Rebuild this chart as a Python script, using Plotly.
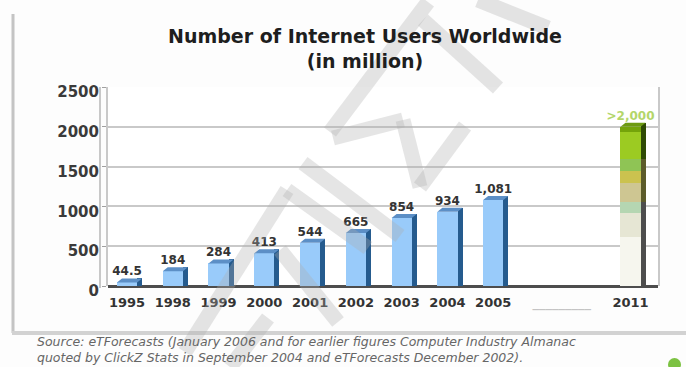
import numpy as np
import plotly.graph_objects as go

# ---- data -------------------------------------------------------------
years = ["1995", "1998", "1999", "2000", "2001", "2002", "2003", "2004", "2005"]
users = [44.5, 184, 284, 413, 544, 665, 854, 934, 1081]
user_labels = ["44.5", "184", "284", "413", "544", "665", "854", "934", "1,081"]

forecast_year = "2011"
forecast_value = 2000
forecast_label = ">2,000"

y_ticks = [0, 500, 1000, 1500, 2000, 2500]
y_tick_labels = ["0", "500", "1000", "1500", "2000", "2500"]

title_lines = ["Number of Internet Users Worldwide", "(in million)"]
source_lines = [
    "Source: eTForecasts (January 2006 and for earlier figures Computer Industry Almanac",
    "quoted by ClickZ Stats in September 2004 and eTForecasts December 2002).",
]

# ---- styling ----------------------------------------------------------
W, H = 686, 367
PLOT_L, PLOT_R, PLOT_T, PLOT_B = 108, 658, 87, 286
FONT = "DejaVu Sans"

FRONT_W = 0.44          # width of the bar front face (category units)
SIDE_W = 0.11           # depth offset of the 3D side face
DEPTH = 50              # vertical lift of the 3D top face (value units)

FRONT_BLUE = "#99cbfa"
SIDE_BLUE = "#255b8e"
TOP_BLUE = "#5c8fc6"

# 2011 bar: colour bands from the floor up (fraction of the bar height)
band_edges = [0.0, 0.31, 0.46, 0.53, 0.65, 0.72, 0.80, 0.97, 1.0]
band_colors = ["#f6f6ee", "#e6e6d4", "#b5d6b2", "#cec692", "#cbc24f",
               "#8fc455", "#9ccb22", "#74a40a"]
side_edges = [0.0, 0.53, 0.80, 1.0]
side_colors = ["#4d4d4d", "#5c5b2a", "#2f4a05"]


def px_x(px):
    return (px - PLOT_L) / (PLOT_R - PLOT_L)


def px_y(py):
    return (PLOT_B - py) / (PLOT_B - PLOT_T)


x_hist = np.arange(len(years), dtype=float)
x_fc = float(len(years) + 2)          # two empty slots before the forecast year
x_gap = (x_hist[-1] + x_fc) / 2

fig = go.Figure()

# front faces of the historical bars
fig.add_trace(go.Bar(x=x_hist, y=users, width=FRONT_W,
                     marker=dict(color=FRONT_BLUE, line=dict(width=0)),
                     hoverinfo="skip"))
# side faces
fig.add_trace(go.Bar(x=x_hist + FRONT_W / 2 + SIDE_W / 2,
                     y=[v + DEPTH for v in users], width=SIDE_W,
                     marker=dict(color=SIDE_BLUE, line=dict(width=0)),
                     hoverinfo="skip"))

# forecast bar: stacked colour bands
for lo, hi, col in zip(band_edges[:-1], band_edges[1:], band_colors):
    fig.add_trace(go.Bar(x=[x_fc], y=[forecast_value * (hi - lo)],
                         base=[forecast_value * lo], width=FRONT_W,
                         marker=dict(color=col, line=dict(width=0)),
                         hoverinfo="skip"))
for i, (lo, hi, col) in enumerate(zip(side_edges[:-1], side_edges[1:], side_colors)):
    top = forecast_value * hi + (DEPTH if i == len(side_colors) - 1 else 0)
    fig.add_trace(go.Bar(x=[x_fc + FRONT_W / 2 + SIDE_W / 2],
                         y=[top - forecast_value * lo],
                         base=[forecast_value * lo], width=SIDE_W,
                         marker=dict(color=col, line=dict(width=0)),
                         hoverinfo="skip"))


def top_faces(xs, vals):
    px, py = [], []
    for x, v in zip(xs, vals):
        px += [x - FRONT_W / 2, x + FRONT_W / 2, x + FRONT_W / 2 + SIDE_W,
               x - FRONT_W / 2 + SIDE_W, x - FRONT_W / 2, None]
        py += [v, v, v + DEPTH, v + DEPTH, v, None]
    return px, py


tx, ty = top_faces(x_hist, users)
fig.add_trace(go.Scatter(x=tx, y=ty, mode="lines", fill="toself",
                         fillcolor=TOP_BLUE, line=dict(width=0),
                         hoverinfo="skip"))
tx, ty = top_faces([x_fc], [forecast_value])
fig.add_trace(go.Scatter(x=tx, y=ty, mode="lines", fill="toself",
                         fillcolor="#6d9a12", line=dict(width=0),
                         hoverinfo="skip"))

# value labels
fig.add_trace(go.Scatter(
    x=list(x_hist) + [x_fc],
    y=[v + DEPTH for v in users] + [forecast_value + DEPTH],
    mode="text",
    text=user_labels + [forecast_label],
    textposition="top center",
    textfont=dict(family=FONT, size=12,
                  color=["#333333"] * len(users) + ["#b4d66a"],
                  weight="bold"),
    hoverinfo="skip"))

tick_vals = list(x_hist) + [x_gap, x_fc]
tick_text = years + ["<span style='color:#c4c4c4'>_________</span>", forecast_year]

shapes = []
# outer frame
shapes.append(dict(type="line", xref="paper", yref="paper",
                   x0=px_x(13), x1=px_x(13), y0=px_y(14), y1=px_y(333),
                   line=dict(color="#c4c4c4", width=3)))
shapes.append(dict(type="line", xref="paper", yref="paper",
                   x0=px_x(12), x1=px_x(686), y0=px_y(333), y1=px_y(333),
                   line=dict(color="#d2d2d2", width=4)))
# 3D wall edge next to the value axis
shapes.append(dict(type="line", xref="paper", yref="paper",
                   x0=px_x(100), x1=px_x(100), y0=px_y(87), y1=px_y(288),
                   line=dict(color="#c8c8c8", width=2)))
# small green badge in the corner
shapes.append(dict(type="circle", xref="paper", yref="paper",
                   x0=px_x(668), x1=px_x(681), y0=px_y(358), y1=px_y(371),
                   fillcolor="#7cc242", line=dict(width=0)))

# faint diagonal watermark strokes
wm = [((185, 352), (287, 190)), ((287, 190), (368, 248)),
      ((303, 163), (400, 236)), ((330, 132), (428, 2)),
      ((333, 138), (403, 120)), ((403, 120), (420, 187)),
      ((420, 187), (465, 126)), ((423, 20), (498, 88)),
      ((478, 0), (548, 28)), ((230, 367), (268, 318)),
      ((280, 250), (338, 322))]
for (ax, ay), (bx, by) in wm:
    shapes.append(dict(type="line", xref="paper", yref="paper",
                       x0=px_x(ax), y0=px_y(ay), x1=px_x(bx), y1=px_y(by),
                       line=dict(color="rgba(175,175,175,0.32)", width=15),
                       layer="above"))

annotations = [dict(
    xref="paper", yref="paper", x=px_x(35), y=px_y(349),
    xanchor="left", yanchor="middle", align="left", showarrow=False,
    text="<br>".join(source_lines),
    font=dict(family=FONT, size=12.5, color="#666666", style="italic"))]

fig.update_layout(
    width=W, height=H,
    margin=dict(l=PLOT_L, r=W - PLOT_R, t=PLOT_T, b=H - PLOT_B),
    paper_bgcolor="#fdfdfd", plot_bgcolor="#ffffff",
    barmode="overlay", bargap=0, showlegend=False,
    title=dict(text="<b>" + "<br>".join(title_lines) + "</b>",
               x=365 / W, xanchor="center", y=1 - 43 / H, yanchor="middle",
               font=dict(family=FONT, size=19, color="#1e1e1e")),
    xaxis=dict(range=[-0.415, 11.6], tickvals=tick_vals, ticktext=tick_text,
               showgrid=False, zeroline=False, showline=False, ticks="",
               ticklabelstandoff=7,
               tickfont=dict(family=FONT, size=13, color="#333333",
                             weight="bold"),
               fixedrange=True),
    yaxis=dict(range=[0, 2500], tickvals=y_ticks, ticktext=y_tick_labels,
               showgrid=True, gridcolor="#c9c9c9", gridwidth=2,
               zeroline=True, zerolinecolor="#4d4d4d", zerolinewidth=3,
               showline=True, mirror=True, linecolor="#c9c9c9", linewidth=2,
               ticks="outside", ticklen=4, tickcolor="#a0a0a0",
               ticklabelshift=5,
               tickfont=dict(family=FONT, size=15, color="#3a3a3a",
                             weight="bold"),
               fixedrange=True),
    shapes=shapes, annotations=annotations,
)

fig.write_html("out.html")
